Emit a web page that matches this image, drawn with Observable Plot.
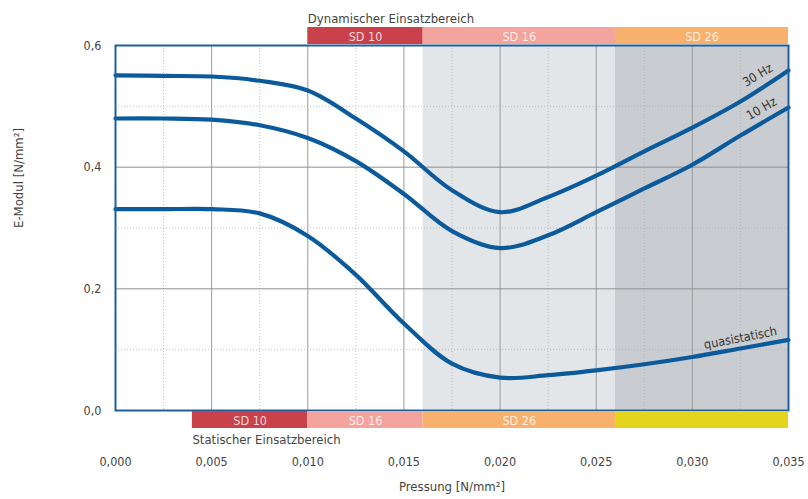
<!DOCTYPE html>
<html>
<head>
<meta charset="utf-8">
<script src="https://cdn.jsdelivr.net/npm/d3@7"></script>
<script src="https://cdn.jsdelivr.net/npm/@observablehq/plot@0.6"></script>
<style>
  body { margin: 0; background: #fff; }
  svg { font-family: "DejaVu Sans Condensed", "DejaVu Sans", sans-serif; font-stretch: condensed; }
</style>
</head>
<body>
<div id="chart"></div>
<script>
// ---- data ----
const pressure = [0, 0.0025, 0.005, 0.0075, 0.010, 0.0125, 0.015, 0.0175, 0.020, 0.0225, 0.025, 0.0275, 0.030, 0.0325, 0.035];
const hz30  = [0.551, 0.550, 0.549, 0.542, 0.526, 0.480, 0.426, 0.362, 0.326, 0.351, 0.386, 0.426, 0.465, 0.508, 0.559];
const hz10  = [0.480, 0.480, 0.478, 0.469, 0.448, 0.410, 0.356, 0.295, 0.267, 0.288, 0.326, 0.365, 0.404, 0.452, 0.498];
const quasi = [0.331, 0.331, 0.331, 0.324, 0.287, 0.223, 0.143, 0.077, 0.054, 0.058, 0.066, 0.076, 0.088, 0.102, 0.116];

const xTicks = [0, 0.005, 0.010, 0.015, 0.020, 0.025, 0.030, 0.035];
const yTicks = [0, 0.2, 0.4, 0.6];
const xMajorGrid = [0.005, 0.010, 0.015, 0.020, 0.025, 0.030];
const xMinorGrid = [0.0025, 0.0075, 0.0125, 0.0175, 0.0225, 0.0275, 0.0325];
const yMajorGrid = [0.2, 0.4];
const yMinorGrid = [0.1, 0.3, 0.5];

const shadeEdges = [0.016, 0.026, 0.035];
const shadeColors = ["#e3e6e9", "#c9ccd0"];

const dynNames = ["SD 10", "SD 16", "SD 26"];
const dynEdges = [0.010, 0.016, 0.026, 0.035];
const dynColors = ["#c9414b", "#f3a49c", "#f8b16c"];

const statNames = ["SD 10", "SD 16", "SD 26", ""];
const statEdges = [0.004, 0.010, 0.016, 0.026, 0.035];
const statColors = ["#c9414b", "#f3a49c", "#f8b16c", "#e4d51c"];

const seriesNames = ["30 Hz", "10 Hz", "quasistatisch"];
const labelX = [0.0334, 0.0336, 0.0325];
const labelY = [0.551, 0.496, 0.119];
const labelRotate = [-31, -30, -11];

// ---- build tables ----
const lineData = [];
[hz30, hz10, quasi].forEach((vals, k) => {
  pressure.forEach((p, i) => lineData.push({series: seriesNames[k], x: p, y: vals[i]}));
});
const shades = shadeColors.map((c, i) => ({x1: shadeEdges[i], x2: shadeEdges[i + 1], fill: c}));
const dyn = dynNames.map((n, i) => ({name: n, x1: dynEdges[i], x2: dynEdges[i + 1], fill: dynColors[i]}));
const stat = statNames.map((n, i) => ({name: n, x1: statEdges[i], x2: statEdges[i + 1], fill: statColors[i]}));
const labels = seriesNames.map((n, i) => ({name: n, x: labelX[i], y: labelY[i], r: labelRotate[i]}));

const fmtX = d => d.toFixed(3).replace(".", ",");
const fmtY = d => d.toFixed(1).replace(".", ",");
const txt = "#444";

const chart = Plot.plot({
  width: 808,
  height: 499,
  marginLeft: 115,
  marginRight: 20,
  marginTop: 45,
  marginBottom: 89,
  x: {domain: [0, 0.035]},
  y: {domain: [0, 0.6]},
  style: {fontSize: "12.5px", color: txt, background: "#fff"},
  marks: [
    Plot.rect(shades, {x1: "x1", x2: "x2", y1: 0, y2: 0.6, fill: "fill"}),
    Plot.ruleX(xMinorGrid, {stroke: "#b0b0b0", strokeDasharray: "1,2", strokeWidth: 0.8}),
    Plot.ruleY(yMinorGrid, {stroke: "#b0b0b0", strokeDasharray: "1,2", strokeWidth: 0.8}),
    Plot.ruleX(xMajorGrid, {stroke: "#9a9a9a", strokeWidth: 1}),
    Plot.ruleY(yMajorGrid, {stroke: "#8f8f8f", strokeWidth: 1}),
    Plot.line(lineData, {x: "x", y: "y", z: "series", stroke: "#0b5a9c", strokeWidth: 4.2, curve: "catmull-rom"}),
    Plot.frame({stroke: "#1e609d", strokeWidth: 2}),
    // dynamic band (above frame)
    Plot.rect(dyn, {x1: "x1", x2: "x2", y1: 0.6, y2: 0.6, insetTop: -18, insetBottom: 1, fill: "fill"}),
    Plot.text(dyn, {x: d => (d.x1 + d.x2) / 2, y: 0.6, dy: -9, text: "name", fill: "#fff", fillOpacity: 0.8, fontSize: 12.5}),
    // static band (below frame)
    Plot.rect(stat, {x1: "x1", x2: "x2", y1: 0, y2: 0, insetBottom: -18, insetTop: 1, fill: "fill"}),
    Plot.text(stat, {x: d => (d.x1 + d.x2) / 2, y: 0, dy: 10, text: "name", fill: "#fff", fillOpacity: 0.8, fontSize: 12.5}),
    Plot.text(["Dynamischer Einsatzbereich"], {x: dynEdges[0], y: 0.6, dy: -27, text: d => d, textAnchor: "start", fill: txt, fontSize: 13}),
    Plot.text(["Statischer Einsatzbereich"], {x: statEdges[0], y: 0, dy: 29, text: d => d, textAnchor: "start", fill: txt, fontSize: 13}),
    // curve labels
    Plot.text(labels, {x: "x", y: "y", text: "name", rotate: "r", fill: "#333", fontSize: 12.5}),
    // axes
    Plot.axisX(xTicks, {tickSize: 0, tickPadding: 47, tickFormat: fmtX, label: null, fill: txt}),
    Plot.axisY(yTicks, {tickSize: 0, tickPadding: 14, tickFormat: fmtY, label: null, fill: txt}),
    Plot.text(["Pressung [N/mm²]"], {frameAnchor: "bottom", dy: 80, text: d => d, fill: txt, fontSize: 13}),
    Plot.text(["E-Modul [N/mm²]"], {frameAnchor: "left", dx: -97, rotate: -90, text: d => d, fill: txt, fontSize: 13})
  ]
});
document.getElementById("chart").appendChild(chart);
</script>
</body>
</html>
